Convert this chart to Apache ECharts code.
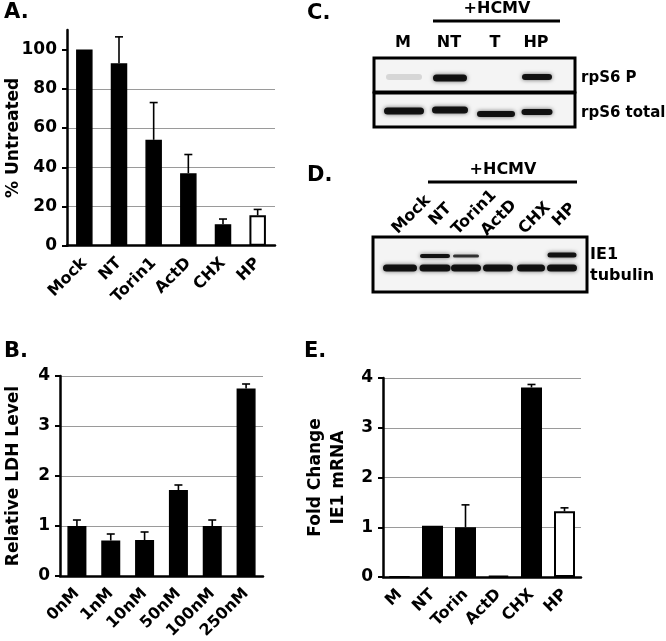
<!DOCTYPE html>
<html><head><meta charset="utf-8">
<script src="https://cdn.jsdelivr.net/npm/echarts@6/dist/echarts.min.js"></script>
<style>html,body{margin:0;padding:0;background:#fff}#c{width:666px;height:641px}</style>
</head><body><div id="c"></div><script>
// ---- data ----
const catsA = ['Mock', 'NT', 'Torin1', 'ActD', 'CHX', 'HP'];
const valsA = [100, 93, 54, 37, 11, 15.5];
const errA  = [null, 13.5, 19, 9.5, 2.6, 3];
const ticksA = [0, 20, 40, 60, 80, 100];

const catsB = ['0nM', '1nM', '10nM', '50nM', '100nM', '250nM'];
const valsB = [1.0, 0.71, 0.72, 1.72, 1.0, 3.75];
const errB  = [0.12, 0.13, 0.16, 0.10, 0.12, 0.09];

const catsE = ['M', 'NT', 'Torin', 'ActD', 'CHX', 'HP'];
const valsE = [0.01, 1.03, 1.0, 0.03, 3.81, 1.32];
const errE  = [null, null, 0.45, null, 0.06, 0.07];

const lanesC = ['M', 'NT', 'T', 'HP'];
const lanesD = ['Mock', 'NT', 'Torin1', 'ActD', 'CHX', 'HP'];

// ---- helpers ----
const FONT = 'DejaVu Sans';
function barData(cats, vals) {
  return vals.map((v, i) => cats[i] === 'HP'
    ? { value: v, itemStyle: { color: '#fff', borderColor: '#000', borderWidth: 2 } }
    : v);
}
function errData(vals, errs) {
  const out = [];
  vals.forEach((v, i) => { if (errs[i] != null) out.push([i, v, v + errs[i]]); });
  return out;
}
function errSeries(idx, vals, errs) {
  return {
    type: 'custom', xAxisIndex: idx, yAxisIndex: idx, z: 5, silent: true,
    data: errData(vals, errs),
    renderItem(params, api) {
      const p0 = api.coord([api.value(0), api.value(1)]);
      const p1 = api.coord([api.value(0), api.value(2)]);
      const st = { stroke: '#000', lineWidth: 1.6 };
      return { type: 'group', children: [
        { type: 'line', shape: { x1: p0[0], y1: p0[1], x2: p1[0], y2: p1[1] }, style: st },
        { type: 'line', shape: { x1: p1[0] - 4, y1: p1[1], x2: p1[0] + 4, y2: p1[1] }, style: st }
      ]};
    }
  };
}
function xAx(idx, cats) {
  return {
    type: 'category', gridIndex: idx, data: cats,
    axisLine: { lineStyle: { color: '#000', width: 2.5 } },
    axisTick: { length: 5, lineStyle: { color: '#000', width: 2 } },
    axisLabel: { rotate: 45, interval: 0, margin: 15, color: '#000', fontFamily: FONT, fontWeight: 'bold', fontSize: 16 },
    splitLine: { show: false }
  };
}
function yAx(idx, max, interval, name, nameGap, extra) {
  return Object.assign({
    type: 'value', gridIndex: idx, min: 0, max: max, interval: interval,
    name: name, nameLocation: 'middle', nameGap: nameGap, nameMoveOverlap: false,
    nameTextStyle: { color: '#000', fontFamily: FONT, fontWeight: 'bold', fontSize: 17, lineHeight: 23 },
    axisLine: { show: true, lineStyle: { color: '#000', width: 2.5 } },
    axisTick: { show: true, length: 5, lineStyle: { color: '#000', width: 2 } },
    axisLabel: { margin: 10, color: '#000', fontFamily: FONT, fontWeight: 'bold', fontSize: 17 },
    splitLine: { show: true, showMinLine: false, lineStyle: { color: '#9a9a9a', width: 1.2 } }
  }, extra || {});
}
function barSeries(idx, cats, vals, bw) {
  return {
    type: 'bar', xAxisIndex: idx, yAxisIndex: idx, barWidth: bw, z: 3,
    data: barData(cats, vals),
    itemStyle: { color: '#000', borderColor: '#000', borderWidth: 1.5 }
  };
}
function txt(x, y, s, size, align, extra) {
  return Object.assign({ type: 'text', x: x, y: y, z: 20,
    style: { text: s, fill: '#000', font: 'bold ' + size + 'px "' + FONT + '"', textAlign: align || 'center', textVerticalAlign: 'middle' } }, extra || {});
}
function band(cx, cy, w, h, op) {
  return { type: 'rect', z: 12, shape: { x: cx - w / 2, y: cy - h / 2, width: w, height: h, r: h / 2 },
    style: { fill: 'rgba(10,10,10,' + (op == null ? 0.95 : op) + ')', shadowBlur: 4, shadowColor: 'rgba(0,0,0,' + (op == null ? 0.6 : op * 0.6) + ')' } };
}
function box(x, y, w, h) {
  return { type: 'rect', z: 10, shape: { x: x, y: y, width: w, height: h },
    style: { fill: '#f4f4f4', stroke: '#000', lineWidth: 3 } };
}
function hline(x1, x2, y) {
  return { type: 'line', z: 10, shape: { x1: x1, y1: y, x2: x2, y2: y }, style: { stroke: '#000', lineWidth: 3 } };
}

// ---- blot layout (image content) ----
const laneXC = [404, 450, 496, 537];
const laneXD = [400, 435, 466, 498, 531, 562];
const labelPosD = [[428, 198], [449, 206], [494, 193], [514, 203], [548, 205], [573, 206]];
const graphics = [
  txt(4, 13, 'A.', 21, 'left'),
  txt(4, 352, 'B.', 21, 'left'),
  txt(307, 14, 'C.', 21, 'left'),
  txt(307, 176, 'D.', 21, 'left'),
  txt(304, 352, 'E.', 21, 'left'),
  // C
  txt(497, 9, '+HCMV', 16),
  hline(433, 560, 21),
  ...lanesC.map((l, i) => txt(laneXC[i] - 1, 43, l, 16)),
  box(374, 58, 201, 34),
  box(374, 93, 201, 34),
  band(laneXC[0], 77, 36, 6, 0.12),
  band(laneXC[1], 78, 34, 7),
  band(laneXC[3], 77, 30, 6),
  band(laneXC[0], 111, 40, 7),
  band(laneXC[1], 110, 36, 7),
  band(laneXC[2], 114, 38, 6),
  band(laneXC[3], 112, 31, 6),
  txt(581, 78, 'rpS6 P', 15, 'left'),
  txt(581, 113, 'rpS6 total', 15, 'left'),
  // D
  txt(503, 170, '+HCMV', 16),
  hline(428, 577, 182),
  ...lanesD.map((l, i) => txt(labelPosD[i][0], labelPosD[i][1], l, 16, 'right', { rotation: Math.PI / 4, originX: 0, originY: 0 })),
  box(373, 237, 214, 55),
  band(laneXD[1], 256, 30, 4),
  band(laneXD[2], 256, 26, 3, 0.8),
  band(laneXD[5], 255, 29, 5),
  band(laneXD[0], 268, 34, 7),
  band(laneXD[1], 268, 31, 7),
  band(laneXD[2], 268, 30, 7),
  band(laneXD[3], 268, 30, 7),
  band(laneXD[4], 268, 28, 7),
  band(laneXD[5], 268, 30, 7),
  txt(590, 255, 'IE1', 16, 'left'),
  txt(590, 276, 'tubulin', 16, 'left')
];

const chart = echarts.init(document.getElementById('c'), null, { renderer: 'canvas' });
chart.setOption({
  animation: false,
  backgroundColor: '#fff',
  grid: [
    { left: 67, top: 30, width: 208, height: 215.7, outerBoundsMode: 'none' },
    { left: 60, top: 376, width: 203, height: 200, outerBoundsMode: 'none' },
    { left: 383, top: 378, width: 198, height: 199, outerBoundsMode: 'none' }
  ],
  xAxis: [xAx(0, catsA), xAx(1, catsB), xAx(2, catsE)],
  yAxis: [
    yAx(0, 110, 20, '% Untreated', 42, {
      axisLabel: { margin: 10, color: '#000', fontFamily: FONT, fontWeight: 'bold', fontSize: 17, formatter: v => (ticksA.indexOf(v) >= 0 ? String(v) : '') },
      axisTick: { show: true, length: 5, customValues: ticksA, lineStyle: { color: '#000', width: 2 } },
      splitLine: { show: true, showMinLine: false, showMaxLine: false, lineStyle: { color: '#9a9a9a', width: 1.2 } }
    }),
    yAx(1, 4, 1, 'Relative LDH Level', 35),
    yAx(2, 4, 1, 'Fold Change\nIE1 mRNA', 33)
  ],
  series: [
    barSeries(0, catsA, valsA, 16.5), errSeries(0, valsA, errA),
    barSeries(1, catsB, valsB, 19), errSeries(1, valsB, errB),
    barSeries(2, catsE, valsE, 21), errSeries(2, valsE, errE)
  ],
  graphic: graphics
});
</script></body></html>
